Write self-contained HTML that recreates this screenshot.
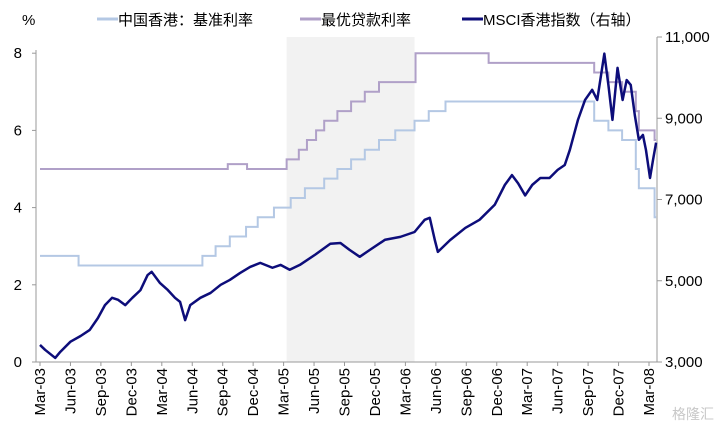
<!DOCTYPE html>
<html><head><meta charset="utf-8"><style>
body{margin:0;background:#fff;}
svg{display:block;font-family:"Liberation Sans","Noto Sans CJK SC",sans-serif;}
</style></head><body>
<svg id="c" width="720" height="430"></svg>
<script>
const xTicks=["Mar-03","Jun-03","Sep-03","Dec-03","Mar-04","Jun-04","Sep-04","Dec-04","Mar-05","Jun-05","Sep-05","Dec-05","Mar-06","Jun-06","Sep-06","Dec-06","Mar-07","Jun-07","Sep-07","Dec-07","Mar-08"];
const leftTicks=[0,2,4,6,8];
const rightTicks=[3000,5000,7000,9000,11000];
const rightTickLabels=["3,000","5,000","7,000","9,000","11,000"];
// base rate steps: month since Mar-03, value
const baseMonths=[0,3.8,16,17.3,18.7,20.3,21.45,23.05,24.7,26.1,28,29.3,30.65,32,33.4,35,36.9,38.3,39.95,54.6,56,57.35,58.7,59,60.55];
const baseVals=[2.75,2.5,2.75,3.0,3.25,3.5,3.75,4.0,4.25,4.5,4.75,5.0,5.25,5.5,5.75,6.0,6.25,6.5,6.75,6.25,6.0,5.75,5.0,4.5,3.75];
const primeMonths=[0,18.5,20.4,24.3,25.5,26.3,27.2,28,29.3,30.65,32,33.4,37,44.2,54.6,56,57.35,58.7,59,60.55];
const primeVals=[5.0,5.125,5.0,5.25,5.5,5.75,6.0,6.25,6.5,6.75,7.0,7.25,8.0,7.75,7.5,7.25,7.0,6.5,6.0,5.75];
const msciMonths=[0,0.5,1.5,2,3,4,4.9,5.7,6.4,7.1,7.7,8.4,9.1,9.9,10.6,11,11.8,12.6,13.3,13.8,14.3,14.8,15.8,16.8,17.8,18.7,19.7,20.7,21.7,22.9,23.7,24.6,25.6,27.1,28.6,29.6,30.5,31.5,32.5,34,35.5,36.9,37.9,38.4,38.9,39.2,40.4,41.9,43.3,44.8,45.8,46.5,47.1,47.8,48.5,49.3,50.2,51,51.7,52.2,53,53.7,54.4,54.9,55.6,56,56.4,56.9,57.4,57.8,58.2,58.6,59,59.4,59.7,60.1,60.4,60.7];
const msciVals=[3420,3300,3100,3250,3500,3640,3790,4080,4400,4580,4530,4400,4580,4770,5140,5220,4950,4770,4580,4480,4030,4400,4580,4700,4900,5020,5190,5340,5440,5320,5390,5270,5390,5640,5910,5930,5760,5590,5760,6010,6080,6200,6500,6550,6000,5710,6000,6300,6500,6870,7360,7600,7400,7100,7360,7530,7530,7730,7850,8220,8960,9450,9700,9450,10590,9820,8960,10240,9450,9940,9820,9080,8470,8590,8220,7530,7980,8400];
const X=m=>40+m*(609/60);
const YL=v=>362-v*38.6;
const YR=v=>362-(v-3000)*(325/8000);
const s=document.getElementById('c');const NS="http://www.w3.org/2000/svg";
function mk(t,a,p){const e=document.createElementNS(NS,t);for(const k in a)e.setAttribute(k,a[k]);(p||s).appendChild(e);return e;}
let e;
e=mk('rect',{x:X(24.3),y:37,width:X(36.9)-X(24.3),height:325,fill:'#f2f2f2'});


e=mk('path',{d:'M36 50V362H657',stroke:'#999',fill:'none','stroke-width':1});


e=mk('path',{d:'M657 37V362',stroke:'#999',fill:'none'});


leftTicks.forEach(v=>{const y=YL(v);mk('line',{x1:32,x2:36,y1:y,y2:y,stroke:'#999'});
e=mk('text',{x:22,y:y+5,'text-anchor':'end','font-size':15,fill:'#000'});e.textContent=v;

});
rightTicks.forEach((v,i)=>{const y=YR(v);mk('line',{x1:657,x2:662,y1:y,y2:y,stroke:'#999'});
e=mk('text',{x:665,y:y+5,'font-size':15,fill:'#000'});e.textContent=rightTickLabels[i];

});
xTicks.forEach((t,i)=>{const x=X(i*3);mk('line',{x1:x,x2:x,y1:362,y2:366,stroke:'#999'});
e=mk('text',{x:0,y:0,transform:`translate(${x+5},368) rotate(-90)`,'text-anchor':'end','font-size':15,fill:'#000'});e.textContent=t;

});
function step(ms,vs,end){let d='M'+X(ms[0])+' '+YL(vs[0]);for(let i=1;i<ms.length;i++){d+='H'+X(ms[i])+'V'+YL(vs[i]);}return d+'H'+X(end);}
e=mk('path',{d:step(baseMonths,baseVals,60.7),stroke:'#b4c8e4',fill:'none','stroke-width':2});


e=mk('path',{d:step(primeMonths,primeVals,60.7),stroke:'#b0a0c8',fill:'none','stroke-width':2});


e=mk('path',{d:'M'+msciMonths.map((m,i)=>X(m)+' '+YR(msciVals[i])).join('L'),stroke:'#0d0d7a',fill:'none','stroke-width':2.5,'stroke-linejoin':'round'});


e=mk('text',{x:22,y:25,'font-size':15});e.textContent='%';


const leg=[[97,'#b4c8e4','中国香港：基准利率'],[300,'#b0a0c8','最优贷款利率'],[462,'#0d0d7a','MSCI香港指数（右轴）']];
leg.forEach(l=>{e=mk('g',{});

mk('line',{x1:l[0],x2:l[0]+21,y1:19,y2:19,stroke:l[1],'stroke-width':3},e);
const t=mk('text',{x:l[0]+21,y:25,'font-size':15},e);t.textContent=l[2];});
e=mk('text',{x:672,y:419,'font-size':14,fill:'#c8c8c8'});e.textContent='格隆汇';


</script>
</body></html>
